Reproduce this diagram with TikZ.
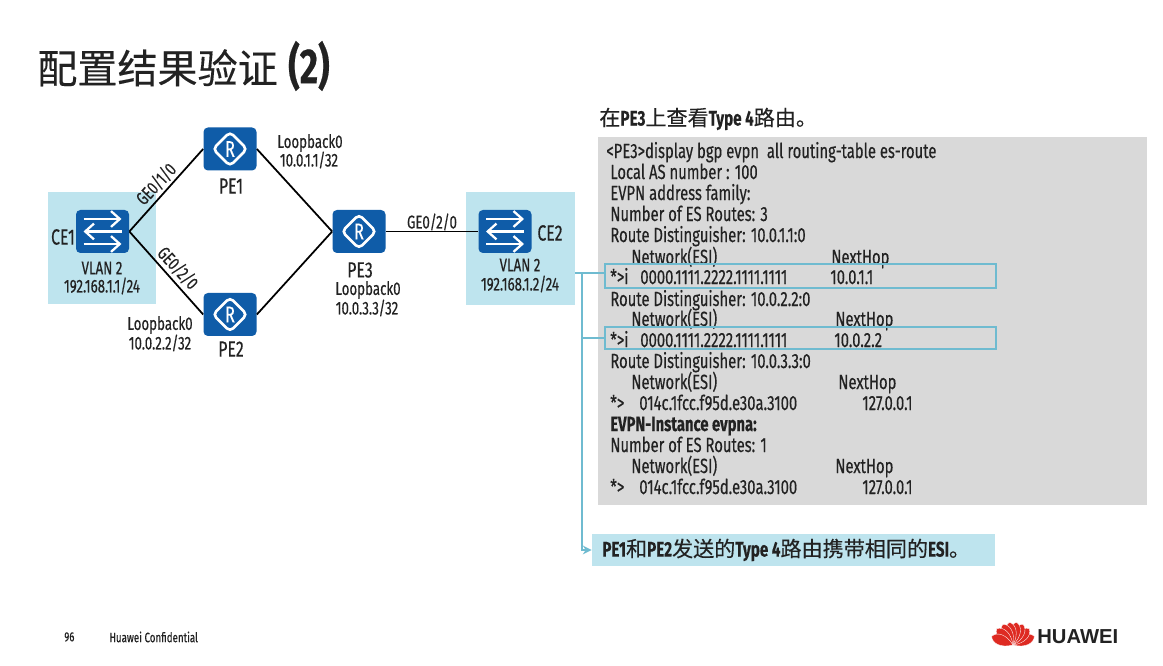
\documentclass[tikz,border=0pt]{standalone}
\usepackage{xcolor}
\usepackage{fontspec}
\setmainfont[FakeStretch=0.72,FakeBold=0.35]{Fira Sans}
\newfontfamily\cjk[FakeBold=0.3]{Noto Sans CJK SC}
\newfontfamily\logofont{Liberation Sans}
\usetikzlibrary{arrows.meta}
\definecolor{HWBlue}{HTML}{0F5CA8}
\definecolor{HWPale}{HTML}{BEE4EE}
\definecolor{HWLine}{HTML}{6FBBD0}
\definecolor{HWGrey}{HTML}{D9D9D9}
\definecolor{HWRed}{HTML}{DE2A22}
\definecolor{HWText}{HTML}{222222}
\tikzset{
  devbox/.style={fill=HWBlue,rounded corners=2.5pt,minimum width=1.06cm,minimum height=.86cm,inner sep=0pt,text=white,font=\fontsize{13}{15}\selectfont},
  routerbox/.style={devbox,path picture={
    \draw[white,line width=1.5pt] (path picture bounding box.center) ++(0,.34) -- ++(.34,-.34) -- ++(-.34,-.34) -- ++(-.34,.34) -- cycle;}},
  switchbox/.style={devbox,path picture={
    \begin{scope}[shift={(path picture bounding box.center)},white,line width=1.3pt,-{Straight Barb[length=5pt,width=9pt]}]
    \draw (-.38,.25) -- (.38,.25);
    \draw (.38,0) -- (-.38,0);
    \draw (-.38,-.25) -- (.38,-.25);
    \end{scope}}},
  linkline/.style={line width=1pt,black},
  paleback/.style={fill=HWPale,inner sep=0pt},
  lbl/.style={text=HWText,inner sep=0pt,font=\fontsize{10.5}{12}\selectfont},
  devlbl/.style={text=HWText,inner sep=0pt,font=\fontsize{12.5}{14}\selectfont},
  codeline/.style={anchor=west,text=HWText,inner sep=0pt,text height=9pt,text depth=1pt,font=\fontsize{11.7}{13}\selectfont},
  hlbox/.style={draw=HWLine,line width=1.2pt,inner sep=0pt,minimum width=7.82cm},
  tapline/.style={draw=HWLine,line width=1pt},
}
\begin{document}
\begin{tikzpicture}[x=1cm,y=1cm]
\path[use as bounding box,fill=white] (0,0) rectangle (23.26,13.32);
% title
\node[anchor=west,inner sep=0pt,text=HWText,font=\fontsize{22.8}{26}\selectfont] (title) at (0.74,12.00) {{\cjk 配置结果验证}\hspace{6pt}{\fontsize{28}{30}\selectfont\textbf{(2)}}};
% network
\node[paleback,minimum width=2.16cm,minimum height=2.24cm] (ce1back) at (2.04,8.36) {};
\node[paleback,minimum width=2.18cm,minimum height=2.26cm] (ce2back) at (10.41,8.35) {};
\node[switchbox] (CE1) at (2.05,8.69) {};
\node[routerbox] (PE1) at (4.60,10.34) {R};
\node[routerbox] (PE2) at (4.60,7.03) {R};
\node[routerbox] (PE3) at (7.18,8.69) {R};
\node[switchbox] (CE2) at (10.10,8.69) {};
\draw[linkline] (CE1.east) -- (PE1.west);
\draw[linkline] (CE1.east) -- (PE2.west);
\draw[linkline] (PE1.east) -- (PE3.west);
\draw[linkline] (PE2.east) -- (PE3.west);
\draw[linkline] (PE3.east) -- (CE2.west);
\node[devlbl] (ce1name) at (1.26,8.58) {CE1};
\node[devlbl] (ce2name) at (11.00,8.66) {CE2};
\node[devlbl] (pe1name) at (4.62,9.60) {PE1};
\node[devlbl] (pe2name) at (4.62,6.34) {PE2};
\node[devlbl] (pe3name) at (7.20,7.92) {PE3};
\node[lbl] (ce1vlan) at (2.04,7.96) {VLAN 2};
\node[lbl] (ce1ip) at (2.04,7.60) {192.168.1.1/24};
\node[lbl] (ce2vlan) at (10.40,8.02) {VLAN 2};
\node[lbl] (ce2ip) at (10.40,7.64) {192.168.1.2/24};
\node[lbl] (pe1lo) at (6.20,10.46) {Loopback0};
\node[lbl] (pe1ip) at (6.18,10.12) {10.0.1.1/32};
\node[lbl] (pe2lo) at (3.20,6.82) {Loopback0};
\node[lbl] (pe2ip) at (3.20,6.46) {10.0.2.2/32};
\node[lbl] (pe3lo) at (7.36,7.52) {Loopback0};
\node[lbl] (pe3ip) at (7.34,7.16) {10.0.3.3/32};
\node[lbl,rotate=47] (ge1) at (3.12,9.64) {GE0/1/0};
\node[lbl,rotate=-47] (ge2) at (3.56,7.96) {GE0/2/0};
\node[lbl] (ge3) at (8.64,8.88) {GE0/2/0};
% right side
\node[anchor=west,inner sep=0pt,text=HWText,font=\fontsize{12}{14}\selectfont] (head) at (11.98,10.94) {{\cjk 在}\textbf{PE3}{\cjk 上查看}\textbf{Type 4}{\cjk 路由。}};
\fill[HWGrey] (11.96,3.22) rectangle (22.94,10.58);
\node[codeline] (l1) at (12.12,10.30) {<PE3>display bgp evpn\ \ all routing-table es-route};
\node[codeline] (l2) at (12.20,9.88) {Local AS number : 100};
\node[codeline] (l3) at (12.20,9.46) {EVPN address family:};
\node[codeline] (l4) at (12.20,9.04) {Number of ES Routes: 3};
\node[codeline] (l5) at (12.20,8.62) {Route Distinguisher: 10.0.1.1:0};
\node[codeline] (l6a) at (12.62,8.18) {Network(ESI)};
\node[codeline] (l6b) at (16.62,8.18) {NextHop};
\node[codeline] (l7a) at (12.20,7.78) {*>i};
\node[codeline] (l7b) at (12.80,7.78) {0000.1111.2222.1111.1111};
\node[codeline] (l7c) at (16.60,7.78) {10.0.1.1};
\node[codeline] (l8) at (12.20,7.34) {Route Distinguisher: 10.0.2.2:0};
\node[codeline] (l9a) at (12.62,6.94) {Network(ESI)};
\node[codeline] (l9b) at (16.70,6.94) {NextHop};
\node[codeline] (l10a) at (12.20,6.52) {*>i};
\node[codeline] (l10b) at (12.80,6.52) {0000.1111.2222.1111.1111};
\node[codeline] (l10c) at (16.68,6.52) {10.0.2.2};
\node[codeline] (l11) at (12.20,6.10) {Route Distinguisher: 10.0.3.3:0};
\node[codeline] (l12a) at (12.62,5.68) {Network(ESI)};
\node[codeline] (l12b) at (16.76,5.68) {NextHop};
\node[codeline] (l13a) at (12.20,5.26) {*>};
\node[codeline] (l13b) at (12.78,5.26) {014c.1fcc.f95d.e30a.3100};
\node[codeline] (l13c) at (17.24,5.26) {127.0.0.1};
\node[codeline,font=\fontsize{11.7}{13}\selectfont\bfseries] (l14) at (12.20,4.84) {EVPN-Instance evpna:};
\node[codeline] (l15) at (12.20,4.42) {Number of ES Routes: 1};
\node[codeline] (l16a) at (12.62,4.00) {Network(ESI)};
\node[codeline] (l16b) at (16.70,4.00) {NextHop};
\node[codeline] (l17a) at (12.20,3.58) {*>};
\node[codeline] (l17b) at (12.78,3.58) {014c.1fcc.f95d.e30a.3100};
\node[codeline] (l17c) at (17.24,3.58) {127.0.0.1};
\node[hlbox,minimum height=.48cm] (hlone) at (16.01,7.80) {};
\node[hlbox,minimum height=.44cm] (hltwo) at (16.01,6.56) {};
\node[fill=HWPale,inner sep=0pt,minimum width=8.06cm,minimum height=.64cm] (note) at (15.87,2.32) {};
\node[anchor=west,inner sep=0pt,text=HWText,font=\fontsize{12}{14}\selectfont] (notetext) at (12.04,2.32) {\textbf{PE1}{\cjk 和}\textbf{PE2}{\cjk 发送的}\textbf{Type 4}{\cjk 路由携带相同的}\textbf{ESI}{\cjk 。}};
\coordinate (tapone) at (11.64,7.86);
\coordinate (taptwo) at (11.64,6.56);
\coordinate (tapend) at (11.64,2.32);
\draw[tapline] (ce2back.east |- tapone) -- (tapone) -- (tapone -| hlone.west);
\draw[tapline] (taptwo) -- (hltwo.west);
\draw[tapline,-{Stealth[length=5pt,width=5pt]}] (tapone) -- (tapend) -- (note.west);
% footer
\node[anchor=west,inner sep=0pt,text=HWText,font=\fontsize{7.5}{9}\selectfont] (pagenum) at (1.28,0.58) {96};
\node[anchor=west,inner sep=0pt,text=HWText,font=\fontsize{7.7}{9}\selectfont] (confid) at (2.18,0.58) {Huawei Confidential};
\foreach \ang in {-68,-45,-26,-9,9,26,45,68}
  \fill[HWRed,draw=white,line width=.2pt,rotate around={\ang:(20.26,0.42)}] (20.26,0.42) .. controls (20.11,0.62) and (20.13,0.82) .. (20.26,0.88) .. controls (20.39,0.82) and (20.41,0.62) .. (20.26,0.42);
\node[anchor=west,inner sep=0pt,text=HWText,font=\logofont\bfseries\fontsize{11.5}{13}\selectfont] (brand) at (20.74,0.58) {HUAWEI};
\end{tikzpicture}
\end{document}
